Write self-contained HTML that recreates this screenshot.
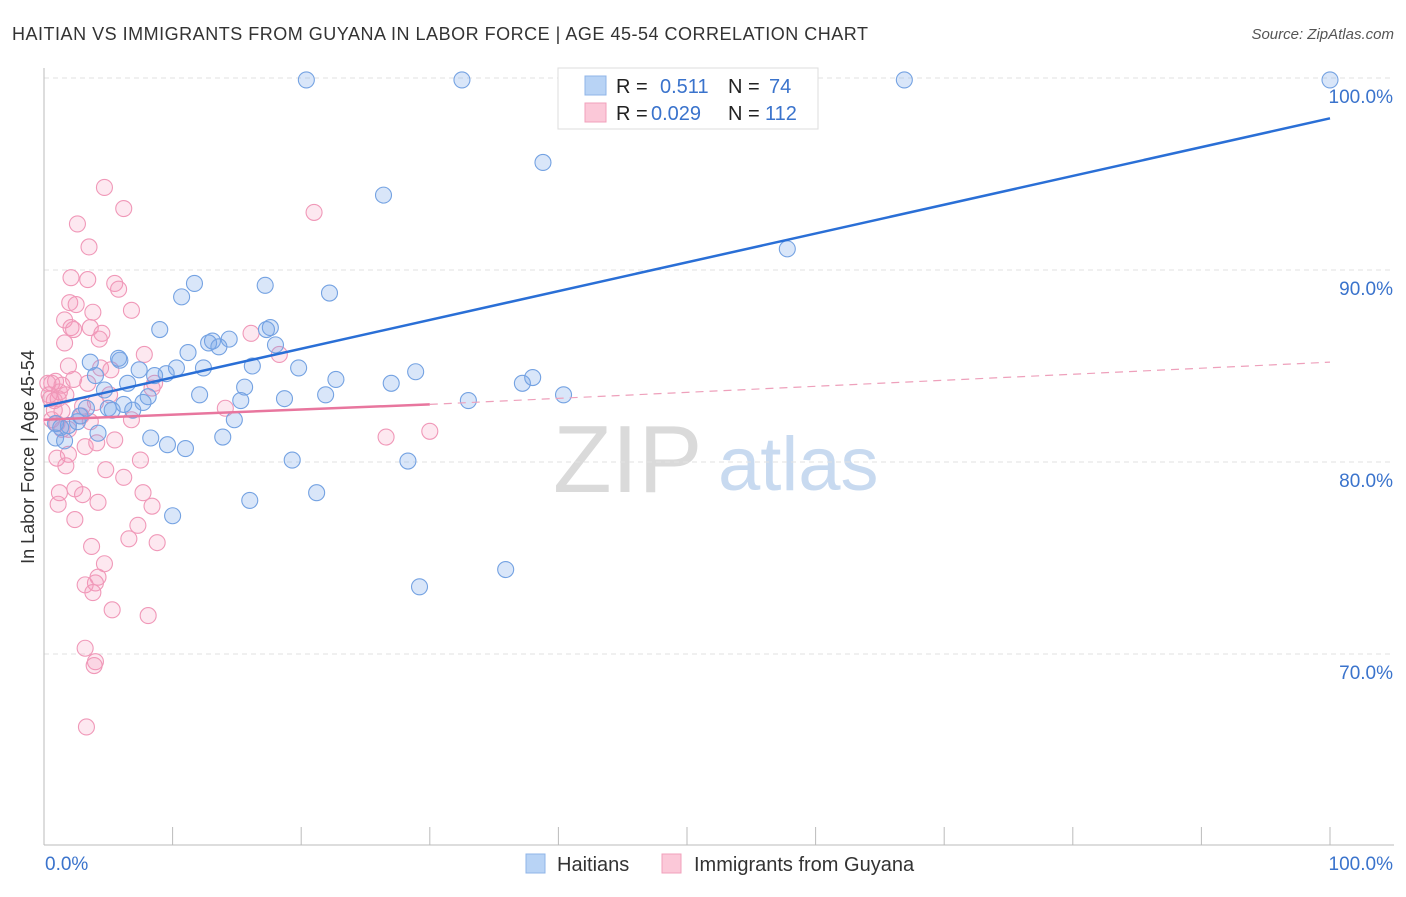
<!DOCTYPE html>
<html><head><meta charset="utf-8"><style>
body{margin:0;background:#fff;font-family:"Liberation Sans",sans-serif;}
svg text{font-family:"Liberation Sans",sans-serif;}
</style></head><body>
<svg id="chart" width="1406" height="892" xmlns="http://www.w3.org/2000/svg">
<text x="12" y="40" font-size="18" fill="#333" textLength="856">HAITIAN VS IMMIGRANTS FROM GUYANA IN LABOR FORCE | AGE 45-54 CORRELATION CHART</text>
<text x="1394" y="39" font-size="15" fill="#555" font-style="italic" text-anchor="end">Source: ZipAtlas.com</text>
<text x="553" y="492" font-size="96" fill="#dadada" font-family="Liberation Serif">ZIP</text>
<text x="718" y="490" font-size="76" fill="#c8daf0">atlas</text>
<g id="grid"></g><g id="axes"></g><g id="pts"></g><g id="trends"></g>
<text x="34" y="457" font-size="18" fill="#333" text-anchor="middle" transform="rotate(-90 34 457)">In Labor Force | Age 45-54</text>
<g>
<rect x="558" y="68" width="260" height="61" fill="#fff" stroke="#ddd"/>
<rect x="585" y="76" width="21" height="19" fill="#b8d3f5" stroke="#8fb4e8"/>
<rect x="585" y="103" width="21" height="19" fill="#fbc8d8" stroke="#f2a0bb"/>
<text x="616" y="93" font-size="20" fill="#222">R =</text><text x="660" y="93" font-size="20" fill="#3a73cc">0.511</text>
<text x="728" y="93" font-size="20" fill="#222">N =</text><text x="769" y="93" font-size="20" fill="#3a73cc">74</text>
<text x="616" y="120" font-size="20" fill="#222">R =</text><text x="651" y="120" font-size="20" fill="#3a73cc">0.029</text>
<text x="728" y="120" font-size="20" fill="#222">N =</text><text x="765" y="120" font-size="20" fill="#3a73cc">112</text>
</g>
<g>
<rect x="526" y="854" width="19" height="19" fill="#b8d3f5" stroke="#8fb4e8"/>
<text x="557" y="871" font-size="20" fill="#333">Haitians</text>
<rect x="662" y="854" width="19" height="19" fill="#fbc8d8" stroke="#f2a0bb"/>
<text x="694" y="871" font-size="20" fill="#333">Immigrants from Guyana</text>
</g>
</svg>
<script>
const xTicks=[0,10,20,30,40,50,60,70,80,90,100];
const yTicks=[70,80,90,100];
const yTickLabels=["70.0%","80.0%","90.0%","100.0%"];
const blueX=[20.4,32.5,66.9,100,38.8,26.4,57.8,11.7,10.7,17.2,22.2,9.0,17.6,17.3,14.4,12.8,13.1,13.6,18.0,11.2,3.6,5.9,5.8,16.2,19.8,10.3,12.4,7.4,9.5,8.6,4.0,28.9,22.7,27.0,37.2,38.0,15.6,6.5,4.7,40.4,12.1,21.9,18.7,33.0,15.3,8.1,7.7,6.2,3.3,5.0,6.9,5.3,14.8,1.9,0.9,1.3,2.6,4.2,0.9,8.3,13.9,9.6,11.0,19.3,28.3,21.2,16.0,10.0,35.9,29.2,1.6,2.8];
const blueY=[99.9,99.9,99.9,99.9,95.6,93.9,91.1,89.3,88.6,89.2,88.8,86.9,87.0,86.9,86.4,86.2,86.3,86.0,86.1,85.7,85.2,85.3,85.4,85.0,84.9,84.9,84.9,84.8,84.6,84.5,84.5,84.7,84.3,84.1,84.1,84.4,83.9,84.1,83.75,83.5,83.5,83.5,83.3,83.2,83.2,83.4,83.1,83.0,82.8,82.8,82.7,82.7,82.2,81.9,82.0,81.8,82.1,81.5,81.25,81.25,81.3,80.9,80.7,80.1,80.05,78.4,78.0,77.2,74.4,73.5,81.1,82.4];
const pinkX=[4.7,6.2,2.6,3.5,21.0,2.1,3.4,5.5,5.8,2.0,2.5,3.8,1.6,6.8,2.1,3.6,4.5,2.3,4.3,1.6,7.8,18.3,16.1,1.9,4.4,5.2,0.9,0.6,1.4,2.3,3.4,8.6,8.4,1.2,1.7,0.5,1.1,5.1,3.0,14.1,0.8,1.4,4.0,2.9,6.8,0.6,1.0,3.6,1.4,1.9,26.6,30.0,5.5,3.2,4.1,1.0,1.9,7.5,1.7,4.8,6.2,1.2,2.4,7.7,3.0,8.4,4.2,1.1,2.4,7.3,6.6,8.8,3.7,4.7,4.2,4.0,3.2,3.8,5.3,8.1,3.2,4.0,3.9,3.3,0.3,0.4,0.8];
const pinkY=[94.3,93.2,92.4,91.2,93.0,89.6,89.5,89.3,89.0,88.3,88.2,87.8,87.4,87.9,87.0,87.0,86.7,86.9,86.4,86.2,85.6,85.6,86.7,85.0,84.9,84.8,84.2,84.1,84.0,84.3,84.1,84.1,83.85,83.65,83.5,83.3,83.3,83.5,82.9,82.8,82.7,82.65,83.1,82.4,82.2,82.2,82.0,82.1,81.7,81.7,81.3,81.6,81.15,80.8,81.0,80.2,80.4,80.1,79.8,79.6,79.2,78.4,78.6,78.4,78.3,77.7,77.9,77.8,77.0,76.7,76.0,75.8,75.6,74.7,74.0,73.7,73.6,73.2,72.3,72.0,70.3,69.6,69.4,66.2,84.1,83.5,83.2];
const blueTrend=[0,82.9,100,97.9];
const pinkTrend=[0,82.2,30,83.0,100,85.2];
const NS="http://www.w3.org/2000/svg";
const X=v=>44+v*12.86, Y=v=>78+(100-v)*19.2;
function mk(tag,attrs,parent){const e=document.createElementNS(NS,tag);for(const k in attrs)e.setAttribute(k,attrs[k]);document.getElementById(parent).appendChild(e);return e;}
yTicks.forEach((t,i)=>{
 const g=mk('line',{x1:44,x2:1394,y1:Y(t),y2:Y(t),stroke:'#e2e2e2','stroke-dasharray':'5,4'},'grid');
 
 
 const l=mk('text',{x:1393,y:Y(t)+25,'font-size':19,fill:'#3a73cc','text-anchor':'end'},'grid');l.textContent=yTickLabels[i];
 
 
});
const ax=mk('line',{x1:44,x2:44,y1:68,y2:845,stroke:'#bbb'},'axes');


const bx=mk('line',{x1:44,x2:1394,y1:845,y2:845,stroke:'#bbb'},'axes');


xTicks.forEach(t=>{const tk=mk('line',{x1:X(t),x2:X(t),y1:827,y2:845,stroke:'#bbb'},'axes');
 
 });
const xl0=mk('text',{x:45,y:870,'font-size':19,fill:'#3a73cc'},'axes');xl0.textContent='0.0%';


const xl1=mk('text',{x:1393,y:870,'font-size':19,fill:'#3a73cc','text-anchor':'end'},'axes');xl1.textContent='100.0%';


pinkX.forEach((x,i)=>{const c=mk('circle',{cx:X(x),cy:Y(pinkY[i]),r:8,fill:'rgba(245,150,185,0.22)',stroke:'#f098b8','stroke-width':1.1},'pts');
 
 });
blueX.forEach((x,i)=>{const c=mk('circle',{cx:X(x),cy:Y(blueY[i]),r:8,fill:'rgba(120,165,235,0.28)',stroke:'#74a2e2','stroke-width':1.1},'pts');
 
 });
const bt=mk('line',{x1:X(blueTrend[0]),y1:Y(blueTrend[1]),x2:X(blueTrend[2]),y2:Y(blueTrend[3]),stroke:'#2a6fd6','stroke-width':2.5},'trends');


const pt=mk('line',{x1:X(pinkTrend[0]),y1:Y(pinkTrend[1]),x2:X(pinkTrend[2]),y2:Y(pinkTrend[3]),stroke:'#e8769e','stroke-width':2.5},'trends');


const pd=mk('line',{x1:X(pinkTrend[2]),y1:Y(pinkTrend[3]),x2:X(pinkTrend[4]),y2:Y(pinkTrend[5]),stroke:'#eea0bb','stroke-width':1.2,'stroke-dasharray':'8,6'},'trends');


</script>
</body></html>
